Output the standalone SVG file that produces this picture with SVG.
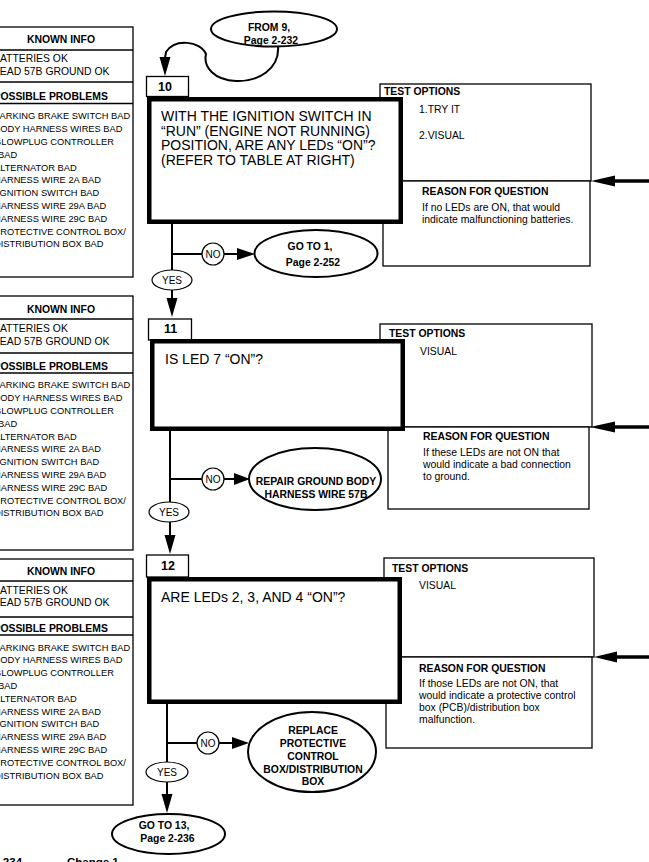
<svg xmlns="http://www.w3.org/2000/svg" width="649" height="862" viewBox="0 0 649 862">
<defs>
<style>
text{font-family:"Liberation Sans",Arial,sans-serif;fill:#000}
.b{font-weight:bold}
.h{font-size:10.4px;font-weight:bold}
.k{font-size:10.4px}
.p{font-size:9.3px}
.q{font-size:14px}
.s{font-size:10.4px}
.n{font-size:12.5px;font-weight:bold}
.y{font-size:10px}
.thin{fill:#fff;stroke:#000;stroke-width:1.3}
.main{fill:#fff;stroke:#000;stroke-width:4.5}
.ov{fill:#fff;stroke:#000;stroke-width:2}
.lbl{fill:#fff;stroke:#000;stroke-width:1.2}
.ln{fill:none;stroke:#000;stroke-width:2}
.rl{fill:none;stroke:#000;stroke-width:3.3}
.ah{fill:#000;stroke:none}
</style>
</defs>
<rect x="0" y="0" width="649" height="862" fill="#fff"/>

<!-- Known info boxes -->
<g id="known-10" transform="translate(0,27)">
<rect class="thin" x="-11" y="0" width="144" height="250"/>
<line class="thin" x1="-11" y1="23" x2="133" y2="23"/>
<line class="thin" x1="-11" y1="55" x2="133" y2="55"/>
<line class="thin" x1="-11" y1="76.5" x2="133" y2="76.5"/>
<text class="h" x="61" y="16" text-anchor="middle">KNOWN INFO</text>
<text class="k" x="-7" y="34.7">BATTERIES OK</text>
<text class="k" x="-6" y="47.7">LEAD 57B GROUND OK</text>
<text class="h" x="-6.5" y="73.2">POSSIBLE PROBLEMS</text>
<g class="p">
<text x="-6" y="92.3">PARKING BRAKE SWITCH BAD</text>
<text x="-6" y="105.1">BODY HARNESS WIRES BAD</text>
<text x="-6" y="117.9">GLOWPLUG CONTROLLER</text>
<text x="-2" y="130.7">BAD</text>
<text x="-6" y="143.5">ALTERNATOR BAD</text>
<text x="-6" y="156.3">HARNESS WIRE 2A BAD</text>
<text x="-3" y="169.1">IGNITION SWITCH BAD</text>
<text x="-6" y="181.9">HARNESS WIRE 29A BAD</text>
<text x="-6" y="194.7">HARNESS WIRE 29C BAD</text>
<text x="-6" y="207.5">PROTECTIVE CONTROL BOX/</text>
<text x="-6" y="220.3">DISTRIBUTION BOX BAD</text>
</g>
</g>

<g id="known-11" transform="translate(0,296)">
<rect class="thin" x="-11" y="0" width="144" height="254"/>
<line class="thin" x1="-11" y1="23" x2="133" y2="23"/>
<line class="thin" x1="-11" y1="57" x2="133" y2="57"/>
<line class="thin" x1="-11" y1="77" x2="133" y2="77"/>
<text class="h" x="61" y="16.5" text-anchor="middle">KNOWN INFO</text>
<text class="k" x="-7" y="36">BATTERIES OK</text>
<text class="k" x="-6" y="49">LEAD 57B GROUND OK</text>
<text class="h" x="-6.5" y="73.5">POSSIBLE PROBLEMS</text>
<g class="p">
<text x="-6" y="92.3">PARKING BRAKE SWITCH BAD</text>
<text x="-6" y="105.1">BODY HARNESS WIRES BAD</text>
<text x="-6" y="117.9">GLOWPLUG CONTROLLER</text>
<text x="-2" y="130.7">BAD</text>
<text x="-6" y="143.5">ALTERNATOR BAD</text>
<text x="-6" y="156.3">HARNESS WIRE 2A BAD</text>
<text x="-3" y="169.1">IGNITION SWITCH BAD</text>
<text x="-6" y="181.9">HARNESS WIRE 29A BAD</text>
<text x="-6" y="194.7">HARNESS WIRE 29C BAD</text>
<text x="-6" y="207.5">PROTECTIVE CONTROL BOX/</text>
<text x="-6" y="220.3">DISTRIBUTION BOX BAD</text>
</g>
</g>

<g id="known-12" transform="translate(0,559)">
<rect class="thin" x="-11" y="0" width="144" height="246"/>
<line class="thin" x1="-11" y1="22" x2="133" y2="22"/>
<line class="thin" x1="-11" y1="58" x2="133" y2="58"/>
<line class="thin" x1="-11" y1="76" x2="133" y2="76"/>
<text class="h" x="61" y="16" text-anchor="middle">KNOWN INFO</text>
<text class="k" x="-7" y="35">BATTERIES OK</text>
<text class="k" x="-6" y="47">LEAD 57B GROUND OK</text>
<text class="h" x="-6.5" y="73">POSSIBLE PROBLEMS</text>
<g class="p">
<text x="-6" y="91.5">PARKING BRAKE SWITCH BAD</text>
<text x="-6" y="104.3">BODY HARNESS WIRES BAD</text>
<text x="-6" y="117.1">GLOWPLUG CONTROLLER</text>
<text x="-2" y="129.9">BAD</text>
<text x="-6" y="142.7">ALTERNATOR BAD</text>
<text x="-6" y="155.5">HARNESS WIRE 2A BAD</text>
<text x="-3" y="168.3">IGNITION SWITCH BAD</text>
<text x="-6" y="181.1">HARNESS WIRE 29A BAD</text>
<text x="-6" y="193.9">HARNESS WIRE 29C BAD</text>
<text x="-6" y="206.7">PROTECTIVE CONTROL BOX/</text>
<text x="-6" y="219.5">DISTRIBUTION BOX BAD</text>
</g>
</g>

<!-- Block 10 -->
<g id="options-10">
<rect class="thin" x="380" y="84" width="211" height="97"/>
<text class="h" x="384" y="95">TEST OPTIONS</text>
<text class="s" x="419" y="112.5">1.TRY IT</text>
<text class="s" x="419" y="138.5">2.VISUAL</text>
</g>
<g id="reason-10">
<rect class="thin" x="383" y="181" width="207" height="85"/>
<text class="h" x="422" y="195">REASON FOR QUESTION</text>
<text class="s" x="422" y="211">If no LEDs are ON, that would</text>
<text class="s" x="422" y="223">indicate malfunctioning batteries.</text>
</g>
<g id="step-10">
<rect class="thin" x="146.5" y="76.5" width="42" height="20"/>
<text class="n" x="158" y="91">10</text>
<rect class="main" x="149.25" y="99.25" width="251.5" height="122.5"/>
<g class="q">
<text x="161" y="121">WITH THE IGNITION SWITCH IN</text>
<text x="161" y="135.7">“RUN”  (ENGINE NOT RUNNING)</text>
<text x="161" y="150.4">POSITION, ARE ANY LEDs “ON”?</text>
<text x="161" y="165.1">(REFER TO TABLE AT RIGHT)</text>
</g>
</g>
<g id="from-9">
<ellipse class="ov" cx="274" cy="29" rx="63" ry="17.5"/>
<text class="h" x="269" y="30.5" text-anchor="middle">FROM 9,</text>
<text class="h" x="271" y="44" text-anchor="middle">Page 2-232</text>
</g>
<g id="goto-1">
<ellipse class="ov" cx="316" cy="253.5" rx="61.5" ry="23.5"/>
<text class="h" x="310" y="250" text-anchor="middle">GO TO 1,</text>
<text class="h" x="313" y="265.5" text-anchor="middle">Page 2-252</text>
</g>

<!-- Block 11 -->
<g id="options-11">
<rect class="thin" x="380" y="324" width="212" height="103"/>
<text class="h" x="389" y="337">TEST OPTIONS</text>
<text class="s" x="420" y="355">VISUAL</text>
</g>
<g id="reason-11">
<rect class="thin" x="388" y="427" width="201" height="82"/>
<text class="h" x="423" y="440">REASON FOR QUESTION</text>
<text class="s" x="423" y="456">If these LEDs are not ON that</text>
<text class="s" x="423" y="468">would indicate a bad connection</text>
<text class="s" x="423" y="480">to ground.</text>
</g>
<g id="step-11">
<rect class="thin" x="148.5" y="319" width="43" height="21"/>
<text class="n" x="164" y="333">11</text>
<rect class="main" x="152.25" y="341.25" width="250.5" height="87.5"/>
<text class="q" x="165" y="364">IS LED 7 “ON”?</text>
</g>
<g id="repair-57b">
<ellipse class="ov" cx="315" cy="479" rx="66" ry="31"/>
<text class="h" x="316" y="485" text-anchor="middle">REPAIR GROUND BODY</text>
<text class="h" x="316" y="497.5" text-anchor="middle">HARNESS WIRE 57B</text>
</g>

<!-- Block 12 -->
<g id="options-12">
<rect class="thin" x="384" y="558" width="210" height="99"/>
<text class="h" x="392" y="572">TEST OPTIONS</text>
<text class="s" x="419" y="589">VISUAL</text>
</g>
<g id="reason-12">
<rect class="thin" x="386" y="657" width="206" height="91"/>
<text class="h" x="419" y="672">REASON FOR QUESTION</text>
<text class="s" x="419" y="687">If those LEDs are not ON, that</text>
<text class="s" x="419" y="699">would indicate a protective control</text>
<text class="s" x="419" y="711">box (PCB)/distribution box</text>
<text class="s" x="419" y="723">malfunction.</text>
</g>
<g id="step-12">
<rect class="thin" x="146.5" y="555" width="42" height="22"/>
<text class="n" x="161" y="570">12</text>
<rect class="main" x="149.25" y="579.25" width="250.5" height="122.5"/>
<text class="q" x="161" y="602">ARE LEDs 2, 3, AND 4 “ON”?</text>
</g>
<g id="replace-pcb">
<ellipse class="ov" cx="312" cy="752" rx="64" ry="40"/>
<g class="h" text-anchor="middle">
<text x="313" y="734">REPLACE</text>
<text x="313" y="747">PROTECTIVE</text>
<text x="313" y="760">CONTROL</text>
<text x="313" y="773">BOX/DISTRIBUTION</text>
<text x="313" y="785">BOX</text>
</g>
</g>
<g id="goto-13">
<ellipse class="ov" cx="168.5" cy="834" rx="56.5" ry="20"/>
<text class="h" x="164" y="829" text-anchor="middle">GO TO 13,</text>
<text class="h" x="167.5" y="842" text-anchor="middle">Page 2-236</text>
</g>

<!-- Connectors -->
<g id="connectors">
<path class="ln" d="M 278 46 C 280 69 258 82 236 81 C 214 80 203 67 206 54 C 200 41 175 38 166 52 L 165 58"/>
<polygon class="ah" points="159.5,57 170.5,57 165,76"/>

<line class="ln" x1="172" y1="224" x2="172" y2="299"/>
<polygon class="ah" points="166.5,298 177.5,298 172,317"/>
<line class="ln" x1="172" y1="254" x2="238" y2="254"/>
<polygon class="ah" points="237,248 237,260 255,254"/>
<line class="rl" x1="612" y1="181" x2="649" y2="181"/>
<polygon class="ah" points="591,181 615,175.5 615,186.5"/>

<line class="ln" x1="170" y1="431" x2="170" y2="537"/>
<polygon class="ah" points="164.5,535 175.5,535 170,554"/>
<line class="ln" x1="170" y1="479" x2="235" y2="479"/>
<polygon class="ah" points="234,473 234,485 250,479"/>
<line class="rl" x1="612" y1="427" x2="649" y2="427"/>
<polygon class="ah" points="590,427 615,421.5 615,432.5"/>

<line class="ln" x1="167" y1="704" x2="167" y2="796"/>
<polygon class="ah" points="161.5,794 172.5,794 167,813"/>
<line class="ln" x1="167" y1="743" x2="233" y2="743"/>
<polygon class="ah" points="232,737 232,749 249,743"/>
<line class="rl" x1="612" y1="657" x2="649" y2="657"/>
<polygon class="ah" points="594,657 617,651.5 617,662.5"/>
</g>

<!-- Branch labels -->
<g id="no-10"><circle class="lbl" cx="213" cy="254" r="11"/><text class="y" x="213" y="257.6" text-anchor="middle">NO</text></g>
<g id="yes-10"><ellipse class="lbl" cx="172" cy="280" rx="20" ry="10"/><text class="y" x="172" y="283.6" text-anchor="middle">YES</text></g>
<g id="no-11"><circle class="lbl" cx="213" cy="479" r="11"/><text class="y" x="213" y="482.6" text-anchor="middle">NO</text></g>
<g id="yes-11"><ellipse class="lbl" cx="169" cy="512" rx="20" ry="10"/><text class="y" x="169" y="515.6" text-anchor="middle">YES</text></g>
<g id="no-12"><circle class="lbl" cx="208" cy="743" r="11"/><text class="y" x="208" y="746.6" text-anchor="middle">NO</text></g>
<g id="yes-12"><ellipse class="lbl" cx="167" cy="772" rx="21" ry="10"/><text class="y" x="167" y="775.6" text-anchor="middle">YES</text></g>

<!-- Footer -->
<g id="footer">
<text class="b" font-size="11.5" x="-7.4" y="865.5">2-234</text>
<text class="b" font-size="11.5" x="67" y="865.5">Change 1</text>
</g>
</svg>
